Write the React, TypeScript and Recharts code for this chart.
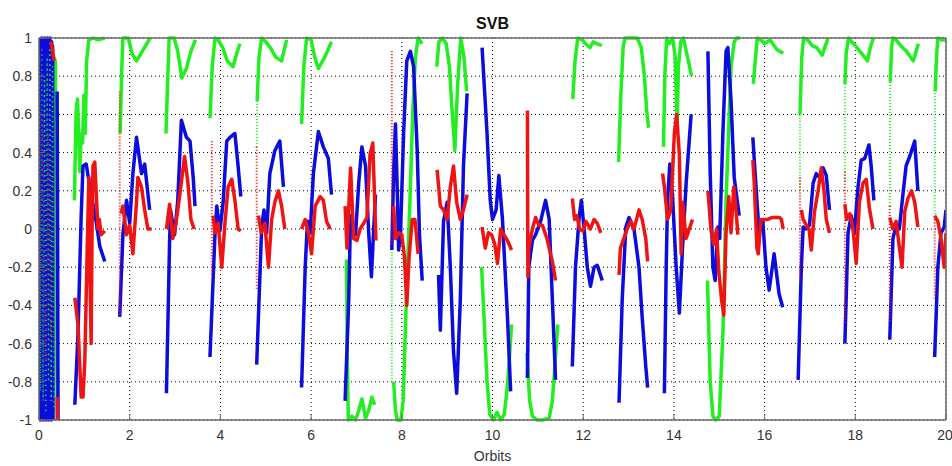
import { CartesianGrid, Line, LineChart, XAxis, YAxis } from "recharts";

type Pt = [number, number];

const xTicks = [0, 2, 4, 6, 8, 10, 12, 14, 16, 18, 20];
const yTicks = [-1, -0.8, -0.6, -0.4, -0.2, 0, 0.2, 0.4, 0.6, 0.8, 1];

// noisy start of the record (orbit 0 - 0.3)
const blueNoise: Pt[] = [
  [0, 1], [0.01, -0.98], [0.02, 0.99], [0.03, -1], [0.04, 0.97], [0.05, -0.99], [0.06, 1], [0.07, -0.97],
  [0.08, 0.98], [0.09, -1], [0.1, 0.99], [0.11, -0.98], [0.12, 1], [0.13, -0.99], [0.14, 0.97], [0.15, -1],
  [0.16, 0.99], [0.17, -0.97], [0.18, 1], [0.19, -0.99], [0.2, 0.98], [0.21, -1], [0.22, 0.99], [0.23, -0.98],
  [0.24, 1], [0.25, -0.99], [0.26, 0.97], [0.27, -1], [0.28, 0.98], [0.29, -0.99], [0.3, 0.96], [0.31, -1],
];
const greenNoise: Pt[] = [
  [0.01, 0.9], [0.03, -0.85], [0.06, 0.95], [0.09, -0.9], [0.12, 0.8], [0.15, -0.95], [0.18, 0.9],
  [0.21, -0.8], [0.24, 0.95], [0.27, -0.9], [0.3, 0.85], [0.33, -0.95],
];
const redNoise: Pt[] = [[0.02, -0.5], [0.08, 0.6], [0.14, -0.7], [0.2, 0.5], [0.26, -0.6], [0.3, 0.4]];

const blueSegments: Pt[][] = [
  blueNoise,
  [[0.4, 0.72], [0.41, 0], [0.42, -1]],
  [[0.79, -0.92], [0.86, -0.55], [0.93, 0.07], [0.97, 0.33], [1.04, 0.34], [1.15, 0.18], [1.26, 0.04], [1.34, -0.09], [1.45, -0.17]],
  [[1.78, -0.46], [1.85, -0.03], [1.93, 0.15], [2.0, 0.03], [2.07, 0.29], [2.15, 0.48], [2.26, 0.29], [2.33, 0.34], [2.44, 0.1]],
  [[2.81, -0.86], [2.88, -0.06], [2.9, 0.1], [2.99, -0.03], [3.06, 0.15], [3.14, 0.57], [3.25, 0.48], [3.33, 0.46], [3.4, 0.27], [3.44, 0.12]],
  [[3.77, -0.67], [3.88, -0.03], [3.92, 0.12], [3.99, -0.01], [4.06, 0.14], [4.14, 0.46], [4.21, 0.48], [4.32, 0.5], [4.39, 0.33], [4.45, 0.17]],
  [[4.8, -0.71], [4.91, 0.01], [4.96, 0.1], [5.02, -0.02], [5.09, 0.29], [5.2, 0.41], [5.31, 0.46], [5.39, 0.22]],
  [[5.79, -0.83], [5.87, -0.2], [5.92, 0.04], [5.98, -0.02], [6.05, 0.29], [6.16, 0.51], [6.27, 0.43], [6.38, 0.37], [6.45, 0.18]],
  [[6.75, -0.9], [6.83, -0.37], [6.87, 0.07], [6.98, -0.03], [7.05, 0.24], [7.12, 0.43], [7.2, 0.33], [7.27, -0.02], [7.33, -0.25], [7.38, 0], [7.42, 0.18]],
  [[7.78, -0.11], [7.82, 0.3], [7.86, 0.55], [7.9, 0.2], [7.93, -0.11], [7.97, -0.03], [8.04, 0.5], [8.11, 0.88], [8.19, 0.93], [8.26, 0.85], [8.34, 0.41], [8.39, -0.03], [8.45, -0.27]],
  [[8.81, -0.24], [8.85, -0.53], [8.92, 0.04], [9.0, 0.14], [9.07, -0.2], [9.14, -0.64], [9.21, -0.86], [9.29, -0.37], [9.36, 0.33], [9.44, 0.71]],
  [[9.77, 0.95], [9.88, 0.5], [9.95, 0.15], [10.0, 0.05], [10.08, 0.1], [10.14, 0.28], [10.22, 0.05], [10.33, -0.46], [10.4, -0.85]],
  [[10.77, -0.78], [10.8, -0.2], [10.88, -0.06], [10.95, -0.03], [11.06, 0.04], [11.17, 0.15], [11.25, 0.05], [11.32, -0.37], [11.39, -0.79]],
  [[11.76, -0.72], [11.83, -0.2], [11.91, 0.06], [11.96, 0.15], [12.02, 0], [12.09, -0.2], [12.16, -0.3], [12.24, -0.2], [12.31, -0.19], [12.42, -0.27]],
  [[12.79, -0.91], [12.86, -0.37], [12.94, 0.01], [13.01, 0.06], [13.12, 0.0], [13.23, -0.2], [13.3, -0.46], [13.38, -0.72], [13.42, -0.83]],
  [[13.79, -0.86], [13.83, -0.2], [13.86, 0.15], [13.91, 0.34], [13.97, 0.17], [14.05, -0.2], [14.12, -0.44], [14.19, -0.1], [14.27, 0.24], [14.38, 0.6]],
  [[14.75, 0.93], [14.8, 0.3], [14.86, -0.2], [14.91, -0.27], [14.97, 0.01], [15.01, -0.05], [15.08, 0.5], [15.15, 0.93], [15.19, 0.95], [15.26, 0.67], [15.33, 0.27], [15.44, 0.07]],
  [[15.74, 0.48], [15.83, 0.15], [15.88, -0.02], [15.96, 0.04], [16.03, -0.2], [16.1, -0.32], [16.21, -0.13], [16.32, -0.34], [16.4, -0.41]],
  [[16.74, -0.79], [16.81, -0.2], [16.85, 0.01], [16.92, 0], [16.99, 0.02], [17.07, 0.24], [17.14, 0.29], [17.21, 0.27], [17.29, 0.32], [17.36, 0.28], [17.43, 0.1]],
  [[17.77, -0.6], [17.84, -0.02], [17.91, 0.07], [17.98, -0.02], [18.06, 0.22], [18.13, 0.36], [18.21, 0.37], [18.3, 0.44], [18.35, 0.33], [18.41, 0.15]],
  [[18.76, -0.58], [18.83, -0.05], [18.9, 0.02], [18.97, 0], [19.05, 0.18], [19.12, 0.33], [19.2, 0.38], [19.31, 0.46], [19.38, 0.2]],
  [[19.75, -0.67], [19.82, -0.2], [19.89, -0.02], [19.96, 0.01], [20, 0.1]],
];

const greenSegments: Pt[][] = [
  [[0.33, 0.9], [0.36, 0.88], [0.37, 0.6], [0.38, 0], [0.39, -0.6], [0.4, -1]],
  [[0.78, 0.15], [0.8, 0.4], [0.82, 0.62], [0.85, 0.68], [0.88, 0.45], [0.9, 0.3], [0.93, 0.5], [0.96, 0.45], [0.99, 0.7], [1.02, 0.5], [1.05, 0.88], [1.1, 0.99], [1.2, 1.0], [1.3, 0.99], [1.45, 1.0]],
  [[1.79, 0.5], [1.82, 0.8], [1.85, 1.0], [1.97, 1.0], [2.05, 0.92], [2.15, 0.88], [2.25, 0.92], [2.45, 1.0]],
  [[2.8, 0.5], [2.84, 0.8], [2.87, 1.0], [2.98, 1.0], [3.06, 0.93], [3.15, 0.79], [3.25, 0.84], [3.35, 0.93], [3.45, 0.99]],
  [[3.77, 0.58], [3.82, 0.85], [3.88, 1.0], [3.95, 0.99], [4.05, 0.95], [4.15, 0.88], [4.28, 0.85], [4.36, 0.92], [4.43, 0.97]],
  [[4.81, 0.67], [4.85, 0.9], [4.91, 1.0], [5.0, 0.98], [5.1, 0.95], [5.22, 0.9], [5.35, 0.88], [5.46, 0.99]],
  [[5.79, 0.55], [5.84, 0.85], [5.9, 1.0], [6.0, 0.99], [6.08, 0.9], [6.16, 0.84], [6.3, 0.9], [6.45, 0.98]],
  [[6.78, -0.16], [6.8, -0.7], [6.82, -1.0], [6.9, -0.98], [6.98, -1.0], [7.05, -0.95], [7.12, -0.89], [7.2, -0.99], [7.27, -0.95], [7.34, -0.88], [7.4, -0.92]],
  [[7.82, -0.8], [7.86, -0.95], [7.9, -1.0], [7.98, -1.0], [8.03, -0.9], [8.1, -0.37], [8.18, 0.15], [8.24, 0.6], [8.3, 0.9], [8.36, 1.0], [8.45, 0.97]],
  [[8.77, 0.85], [8.82, 0.98], [8.9, 1.0], [8.98, 0.97], [9.05, 0.85], [9.1, 0.65], [9.17, 0.41], [9.23, 0.75], [9.3, 1.0], [9.37, 0.9], [9.43, 0.72]],
  [[9.76, -0.2], [9.82, -0.5], [9.88, -0.8], [9.94, -0.97], [10.02, -1.0], [10.1, -0.96], [10.18, -1.0], [10.26, -0.97], [10.33, -0.82], [10.38, -0.65], [10.42, -0.5]],
  [[10.76, -0.65], [10.82, -0.9], [10.88, -0.98], [10.98, -1.0], [11.1, -1.0], [11.25, -0.99], [11.32, -0.9], [11.38, -0.7], [11.44, -0.5]],
  [[11.77, 0.68], [11.82, 0.88], [11.88, 1.0], [11.98, 0.99], [12.05, 0.97], [12.15, 0.95], [12.22, 0.98], [12.3, 0.97], [12.41, 0.96]],
  [[12.78, 0.35], [12.83, 0.7], [12.88, 0.95], [12.92, 1.0], [13.19, 1.0], [13.28, 0.95], [13.35, 0.8], [13.4, 0.62], [13.44, 0.53]],
  [[13.77, 0.43], [13.8, 0.8], [13.84, 1.0], [13.9, 0.97], [13.97, 1.0], [14.03, 0.9], [14.07, 0.53], [14.1, 0.85], [14.15, 0.98], [14.21, 1.0], [14.3, 0.9], [14.39, 0.8]],
  [[14.74, -0.27], [14.8, -0.8], [14.86, -0.98], [14.92, -1.0], [15.0, -0.98], [15.08, -0.55], [15.15, 0.15], [15.22, 0.6], [15.26, 0.85], [15.33, 0.98], [15.38, 1.0], [15.46, 1.0]],
  [[15.75, 0.76], [15.8, 0.9], [15.84, 1.0], [15.92, 0.99], [16.0, 0.97], [16.12, 0.99], [16.27, 0.94], [16.41, 0.92]],
  [[16.78, 0.6], [16.82, 0.9], [16.86, 1.0], [16.95, 0.99], [17.05, 0.96], [17.15, 0.95], [17.27, 0.91], [17.34, 0.96], [17.4, 1.0]],
  [[17.77, 0.76], [17.8, 0.92], [17.85, 1.0], [17.92, 0.98], [18.0, 0.96], [18.1, 0.93], [18.27, 0.88], [18.33, 0.95], [18.4, 1.0]],
  [[18.77, 0.77], [18.8, 0.95], [18.83, 1.0], [18.9, 0.99], [19.0, 0.96], [19.13, 0.93], [19.28, 0.88], [19.39, 0.97]],
  [[19.76, 0.72], [19.79, 0.9], [19.82, 1.0], [19.9, 0.99], [20, 0.99]],
];

const redSegments: Pt[][] = [
  [[0.25, 0.98], [0.29, 0.95], [0.33, 0.88]],
  [[0.4, -0.88], [0.41, -1.0]],
  [[0.79, -0.36], [0.86, -0.5], [0.9, -0.72], [0.93, -0.88], [0.97, -0.88], [1.01, -0.69], [1.07, -0.03], [1.1, 0.27], [1.12, -0.2], [1.15, -0.6], [1.17, 0.0], [1.19, 0.33], [1.23, 0.35], [1.3, 0.0], [1.33, 0.05], [1.37, -0.03], [1.45, -0.01]],
  [[1.81, 0.08], [1.85, 0.12], [1.93, -0.03], [2.0, 0.02], [2.07, -0.13], [2.15, 0.14], [2.18, 0.27], [2.26, 0.22], [2.33, 0.1], [2.4, 0.0], [2.48, 0.0]],
  [[2.81, 0.0], [2.88, 0.13], [2.95, -0.05], [3.02, 0.03], [3.1, 0.17], [3.21, 0.38], [3.28, 0.25], [3.35, 0.05], [3.42, 0.0]],
  [[3.84, 0.07], [3.88, -0.02], [3.95, 0.03], [4.03, -0.2], [4.1, 0.03], [4.17, 0.22], [4.25, 0.26], [4.32, 0.15], [4.39, 0.0], [4.45, -0.01]],
  [[4.84, 0.07], [4.9, -0.02], [4.98, 0.03], [5.06, -0.2], [5.13, 0.05], [5.2, 0.14], [5.28, 0.2], [5.35, 0.12], [5.42, 0.0]],
  [[5.79, 0.0], [5.87, 0.05], [5.94, -0.02], [6.01, -0.13], [6.09, 0.12], [6.2, 0.17], [6.27, 0.15], [6.34, 0.04], [6.42, 0.0]],
  [[6.75, 0.12], [6.79, -0.1], [6.87, 0.32], [6.94, -0.05], [7.01, -0.06], [7.08, 0.0], [7.16, 0.03], [7.23, 0.06], [7.3, 0.39], [7.36, 0.45], [7.4, 0.16], [7.43, -0.06]],
  [[7.82, 0.12], [7.86, -0.05], [7.93, -0.02], [8.0, -0.03], [8.06, -0.15], [8.11, -0.4], [8.16, -0.15], [8.23, 0.05], [8.29, 0.05], [8.36, -0.13]],
  [[8.78, 0.31], [8.85, 0.12], [8.92, 0.1], [9.0, 0.05], [9.07, 0.22], [9.14, 0.33], [9.21, 0.14], [9.29, 0.05], [9.36, 0.1], [9.44, 0.18]],
  [[9.77, 0.01], [9.84, -0.1], [9.91, -0.02], [9.98, -0.03], [10.05, -0.08], [10.11, -0.18], [10.18, 0.0], [10.25, -0.03], [10.33, -0.06], [10.42, -0.11]],
  [[10.77, 0.62], [10.775, 0.15], [10.78, -0.25], [10.8, -0.1], [10.88, 0.0], [10.95, 0.06], [11.02, 0.02], [11.1, 0.02], [11.2, -0.05], [11.32, -0.17], [11.39, -0.27]],
  [[11.76, 0.16], [11.81, 0.05], [11.86, 0.07], [11.92, 0.0], [11.99, -0.01], [12.06, 0.04], [12.16, 0.0], [12.24, 0.05], [12.31, 0.03], [12.39, -0.02]],
  [[12.79, -0.24], [12.82, -0.1], [12.88, -0.06], [12.97, 0.0], [13.05, 0.04], [13.12, 0.0], [13.23, 0.1], [13.3, 0.05], [13.38, -0.05], [13.42, -0.17]],
  [[13.75, 0.29], [13.79, 0.22], [13.86, 0.05], [13.93, 0.1], [14.01, 0.5], [14.06, 0.6], [14.12, 0.39], [14.16, -0.13], [14.19, 0.14], [14.27, -0.05], [14.34, 0.0], [14.41, 0.05]],
  [[14.75, 0.2], [14.82, -0.01], [14.88, -0.08], [14.94, 0.0], [14.99, -0.22], [15.05, -0.37], [15.1, -0.45], [15.15, -0.02], [15.21, 0.17], [15.26, -0.02], [15.32, 0.22], [15.37, 0.1], [15.41, -0.03]],
  [[15.74, 0.36], [15.77, 0.25], [15.83, -0.1], [15.86, -0.13], [15.92, 0.05], [16.0, 0.05], [16.07, 0.05], [16.16, 0.06], [16.25, 0.06], [16.33, 0.06], [16.37, 0.05], [16.41, 0.0]],
  [[16.81, 0.1], [16.85, 0.05], [16.92, 0.02], [16.98, 0.0], [17.03, -0.11], [17.1, 0.09], [17.18, 0.2], [17.25, 0.32], [17.31, 0.2], [17.36, 0.05], [17.43, -0.02]],
  [[17.77, 0.13], [17.81, 0.05], [17.88, 0.08], [17.95, 0.0], [18.02, -0.18], [18.09, 0.14], [18.17, 0.24], [18.24, 0.26], [18.31, 0.11], [18.39, 0.0]],
  [[18.76, 0.06], [18.83, 0.0], [18.9, 0.04], [18.98, -0.11], [19.03, -0.2], [19.09, 0.09], [19.16, 0.16], [19.24, 0.2], [19.31, 0.14], [19.38, 0.01]],
  [[19.75, 0.07], [19.82, 0.04], [19.89, -0.05], [19.96, -0.2], [20, -0.02]],
];

// sparse samples at orbit starts, drawn as dotted columns
const greenDotted: Pt[][] = [
  [[4.8, 0.43], [4.81, 0.67]],
  [[7.78, -0.8], [7.78, -0.12]],
  [[16.78, 0.2], [16.78, 0.6]],
  [[17.77, 0.25], [17.77, 0.76]],
  [[18.76, 0.12], [18.77, 0.77]],
  [[19.75, 0.03], [19.76, 0.72]],
];
const redDotted: Pt[][] = [
  [[1.78, 0.72], [1.78, -0.45]],
  [[3.81, 0.46], [3.81, -0.24]],
  [[4.8, 0.43], [4.8, -0.32]],
  [[7.78, 0.93], [7.78, -0.08]],
  [[16.78, 0.27], [16.78, -0.28]],
  [[17.77, 0.3], [17.77, -0.5]],
  [[18.76, 0.12], [18.76, -0.48]],
  [[19.75, 0.05], [19.75, -0.37]],
];

const GREEN = "#22ee22";
const BLUE = "#0c0cdc";
const RED = "#ee1414";
const FRAME = "#6a6a6a";
const FONT = "'Liberation Sans', Arial, sans-serif";

function toRows(segs: Pt[][]) {
  const out: { x: number; y: number | null }[] = [];
  segs.forEach((seg, i) => {
    if (i > 0) out.push({ x: seg[0][0], y: null });
    seg.forEach(([x, y]) => out.push({ x, y }));
  });
  return out;
}

const tickStyle = { fill: "#333", fontSize: 14, fontFamily: FONT };

export default function App() {
  const line = (data: Pt[][], color: string, width: number, dash?: string) => (
    <Line
      data={toRows(data)}
      dataKey="y"
      type="linear"
      stroke={color}
      strokeWidth={width}
      strokeDasharray={dash}
      strokeLinejoin="round"
      dot={false}
      activeDot={false}
      isAnimationActive={false}
    />
  );
  return (
    <div style={{ position: "absolute", left: 0, top: 0, width: 952, height: 466, background: "#fff", fontFamily: FONT }}>
      <div style={{ position: "absolute", left: 0, width: 985, top: 16, textAlign: "center", fontSize: 16, lineHeight: "16px", fontWeight: "bold", color: "#111" }}>
        SVB
      </div>
      <LineChart width={952} height={466} margin={{ top: 37, right: 5, bottom: 16, left: 0 }}>
        <CartesianGrid stroke="#000" strokeDasharray="1 3" strokeWidth={1} />
        <XAxis
          dataKey="x"
          type="number"
          domain={[0, 20]}
          ticks={xTicks}
          allowDataOverflow
          height={30}
          tickSize={-6}
          tickMargin={16}
          tick={tickStyle}
          stroke={FRAME}
          axisLine={{ stroke: FRAME, strokeWidth: 1.5 }}
        />
        <XAxis xAxisId="top" orientation="top" type="number" domain={[0, 20]} ticks={xTicks} height={1} tickSize={-6} tick={false} stroke={FRAME} axisLine={{ stroke: FRAME, strokeWidth: 1.5 }} />
        <YAxis
          type="number"
          domain={[-1, 1]}
          ticks={yTicks}
          width={39}
          tickSize={-6}
          tickMargin={13}
          tick={tickStyle}
          stroke={FRAME}
          axisLine={{ stroke: FRAME, strokeWidth: 1.5 }}
        />
        <YAxis yAxisId="right" orientation="right" type="number" domain={[-1, 1]} ticks={yTicks} width={1} tickSize={-6} tick={false} stroke={FRAME} axisLine={{ stroke: FRAME, strokeWidth: 1.5 }} />
        {line(greenSegments, GREEN, 3.5)}
        {line(greenDotted, GREEN, 2, "1 2")}
        {line(blueSegments, BLUE, 3.5)}
        {line([greenNoise], GREEN, 1.5, "1 4")}
        {line([redNoise], RED, 1.5, "1 5")}
        {line(redDotted, RED, 2, "1 2")}
        {line(redSegments, RED, 3.5)}
      </LineChart>
      <div style={{ position: "absolute", left: 0, width: 985, top: 449, textAlign: "center", fontSize: 14, lineHeight: "14px", color: "#333" }}>
        Orbits
      </div>
    </div>
  );
}
